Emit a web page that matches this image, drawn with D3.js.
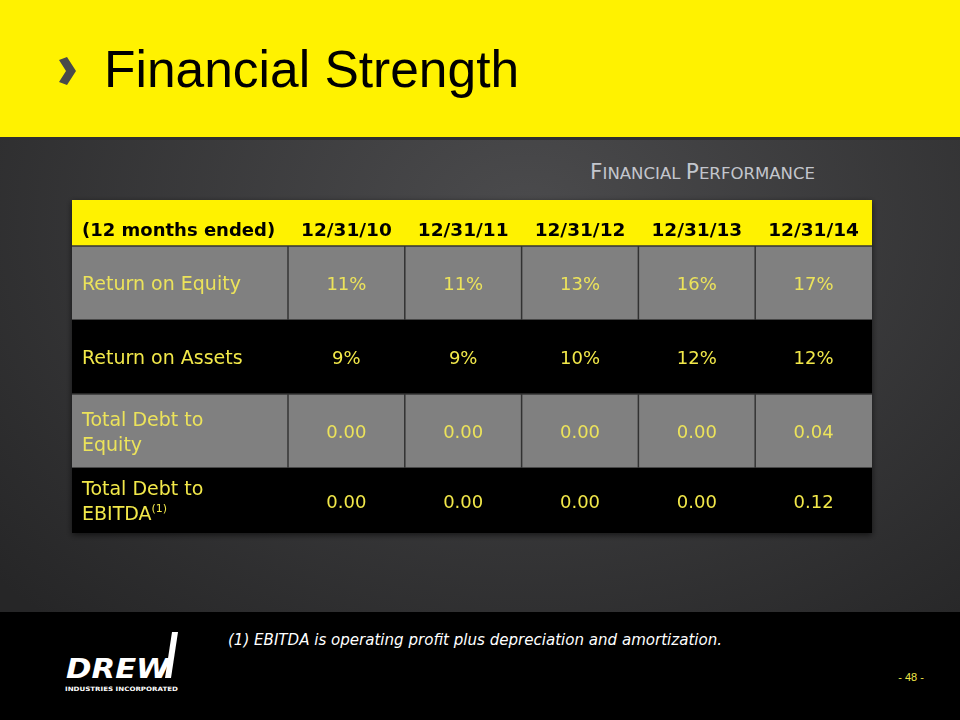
<!DOCTYPE html>
<html lang="en">
<head>
<meta charset="utf-8">
<title>Financial Strength</title>
<script src="https://cdnjs.cloudflare.com/ajax/libs/d3/7.8.5/d3.min.js"></script>
<style>
  body { margin: 0; background: #000; }
  svg { display: block; }
</style>
</head>
<body>
<div id="slide"></div>
<script>
// table data
const headerLabel = "(12 months ended)";
const periods = ["12/31/10", "12/31/11", "12/31/12", "12/31/13", "12/31/14"];
const rowLabels = [["Return on Equity"], ["Return on Assets"], ["Total Debt to", "Equity"], ["Total Debt to", "EBITDA"]];
const roe = ["11%", "11%", "13%", "16%", "17%"];
const roa = ["9%", "9%", "10%", "12%", "12%"];
const debtEquity = ["0.00", "0.00", "0.00", "0.00", "0.04"];
const debtEbitda = ["0.00", "0.00", "0.00", "0.00", "0.12"];
const rowValues = [roe, roa, debtEquity, debtEbitda];

const width = 960, height = 720;
const table = {left: 72, right: 872, top: 200, head: 246, bottom: 533, labelW: 216};
const rowH = 74;

const svg = d3.select("#slide").append("svg")
    .attr("width", width).attr("height", height);

const defs = svg.append("defs");
const bg = defs.append("radialGradient").attr("id", "bg")
    .attr("cx", "55%").attr("cy", "30%").attr("r", "75%");
bg.append("stop").attr("offset", "0%").attr("stop-color", "#4b4b4d");
bg.append("stop").attr("offset", "100%").attr("stop-color", "#262627");
const shadow = defs.append("filter").attr("id", "shadow")
    .attr("x", "-5%").attr("y", "-5%").attr("width", "110%").attr("height", "115%");
shadow.append("feDropShadow").attr("dx", 0).attr("dy", 2).attr("stdDeviation", 3)
    .attr("flood-color", "#000").attr("flood-opacity", 0.6);

// background
svg.append("rect").attr("width", width).attr("height", height).attr("fill", "url(#bg)");

// yellow header band
svg.append("rect").attr("width", width).attr("height", 137).attr("fill", "#fff200");
svg.append("rect").attr("y", 137).attr("width", width).attr("height", 3).attr("fill", "#2f2f2f");
svg.append("path")
    .attr("d", "M59,60 L67,57 L76,71 L67,85 L59,82 L66,71 Z")
    .attr("fill", "#4a4a4a");
svg.append("text")
    .attr("x", 104).attr("y", 87)
    .attr("font-family", "Liberation Sans, Arial, sans-serif")
    .attr("font-size", 51.5)
    .attr("fill", "#000")
    .text("Financial Strength");

// subtitle in small caps
const sub = svg.append("text")
    .attr("x", 590).attr("y", 179)
    .attr("font-family", "DejaVu Sans, sans-serif")
    .attr("textLength", 225).attr("lengthAdjust", "spacingAndGlyphs")
    .attr("fill", "#c3c6cd");
sub.append("tspan").attr("font-size", 21).text("F");
sub.append("tspan").attr("font-size", 16).text("INANCIAL ");
sub.append("tspan").attr("font-size", 21).text("P");
sub.append("tspan").attr("font-size", 16).text("ERFORMANCE");

// scales
const x = d3.scaleBand()
    .domain(periods)
    .range([table.left + table.labelW, table.right]);
const y = d3.scaleBand()
    .domain(d3.range(rowLabels.length))
    .range([table.head, table.head + rowH * rowLabels.length]);
const rowHeight = i => Math.min(y.bandwidth(), table.bottom - y(i));

const font = "DejaVu Sans, Verdana, sans-serif";
const t = svg.append("g").attr("filter", "url(#shadow)");

// header row
t.append("rect")
    .attr("x", table.left).attr("y", table.top)
    .attr("width", table.right - table.left).attr("height", table.head - table.top)
    .attr("fill", "#fff200");
t.append("text")
    .attr("x", table.left + 10).attr("y", table.top + 36)
    .attr("font-family", font).attr("font-weight", "bold").attr("font-size", 18)
    .attr("fill", "#000")
    .text(headerLabel);
t.selectAll("text.period")
    .data(periods)
    .join("text")
    .attr("class", "period")
    .attr("x", d => x(d) + x.bandwidth() / 2)
    .attr("y", table.top + 36)
    .attr("text-anchor", "middle")
    .attr("font-family", font).attr("font-weight", "bold").attr("font-size", 18.5)
    .attr("fill", "#000")
    .text(d => d);

// body rows
const rows = t.selectAll("g.row")
    .data(rowValues)
    .join("g")
    .attr("class", "row");

rows.append("rect")
    .attr("x", table.left)
    .attr("y", (d, i) => y(i))
    .attr("width", table.right - table.left)
    .attr("height", (d, i) => rowHeight(i))
    .attr("fill", (d, i) => i % 2 === 0 ? "#808080" : "#000");

// grid lines for grey rows
rows.each(function(d, i) {
  if (i % 2 !== 0) return;
  const g = d3.select(this);
  g.selectAll("line.v")
      .data(periods)
      .join("line")
      .attr("x1", p => x(p)).attr("x2", p => x(p))
      .attr("y1", y(i)).attr("y2", y(i) + rowHeight(i))
      .attr("stroke", "#333").attr("stroke-width", 1.5);
  g.selectAll("line.h")
      .data([y(i), y(i) + rowHeight(i)])
      .join("line")
      .attr("x1", table.left).attr("x2", table.right)
      .attr("y1", v => v).attr("y2", v => v)
      .attr("stroke", "#333").attr("stroke-width", 1.5);
});

// row labels
rows.each(function(d, i) {
  const lines = rowLabels[i];
  const cy = y(i) + rowHeight(i) / 2;
  const lineH = 25;
  const txt = d3.select(this).append("text")
      .attr("font-family", font).attr("font-size", 19)
      .attr("fill", i % 2 === 0 ? "#ece35a" : "#f2e84a");
  lines.forEach((l, k) => {
    txt.append("tspan")
        .attr("x", table.left + 10)
        .attr("y", cy + 7 + (k - (lines.length - 1) / 2) * lineH)
        .text(l);
    if (i === 3 && k === 1) {
      txt.append("tspan").attr("font-size", 11).attr("dy", -8).text("(1)");
    }
  });
});

// values
rows.selectAll("text.val")
    .data((d, i) => d.map((v, k) => ({v, k, i})))
    .join("text")
    .attr("class", "val")
    .attr("x", d => x(periods[d.k]) + x.bandwidth() / 2)
    .attr("y", d => y(d.i) + rowHeight(d.i) / 2 + 7)
    .attr("text-anchor", "middle")
    .attr("font-family", font).attr("font-size", 18)
    .attr("fill", d => d.i % 2 === 0 ? "#ece35a" : "#f2e84a")
    .text(d => d.v);

// footer
svg.append("rect").attr("y", 612).attr("width", width).attr("height", 108).attr("fill", "#000");
svg.append("text")
    .attr("x", 228).attr("y", 645)
    .attr("font-family", "DejaVu Sans Condensed, DejaVu Sans, sans-serif")
    .attr("font-style", "italic").attr("font-size", 15)
    .attr("textLength", 494).attr("lengthAdjust", "spacingAndGlyphs")
    .attr("fill", "#fff")
    .text("(1) EBITDA is operating profit plus depreciation and amortization.");
svg.append("text")
    .attr("x", 911).attr("y", 681)
    .attr("text-anchor", "middle")
    .attr("font-family", "Liberation Sans Narrow, Liberation Sans, sans-serif")
    .attr("font-size", 11)
    .attr("fill", "#f2e84a")
    .text("- 48 -");

// logo
const logo = svg.append("g");
logo.append("path")
    .attr("d", "M165,678 L171,678 L178,632 L172,632 Z")
    .attr("fill", "#fff");
logo.append("text")
    .attr("x", 66).attr("y", 678)
    .attr("font-family", "DejaVu Sans, sans-serif")
    .attr("font-weight", "bold").attr("font-style", "italic")
    .attr("font-size", 27)
    .attr("textLength", 104).attr("lengthAdjust", "spacingAndGlyphs")
    .attr("fill", "#fff")
    .text("DREW");
logo.append("text")
    .attr("x", 65).attr("y", 691)
    .attr("font-family", "DejaVu Sans, sans-serif")
    .attr("font-weight", "bold").attr("font-size", 6)
    .attr("textLength", 113).attr("lengthAdjust", "spacingAndGlyphs")
    .attr("fill", "#fff")
    .text("INDUSTRIES INCORPORATED");
</script>
</body>
</html>
